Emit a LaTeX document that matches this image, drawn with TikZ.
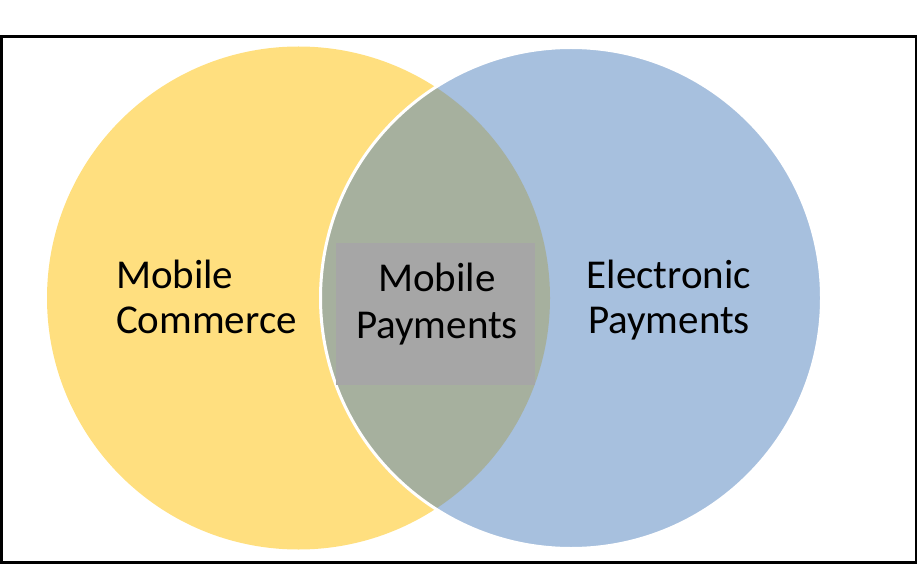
\documentclass[tikz,border=0pt]{standalone}
\usepackage{fontspec}
\setmainfont{Carlito}
\definecolor{mcyellow}{HTML}{FFC000}
\definecolor{epblue}{HTML}{4F81BD}
\definecolor{mpgray}{HTML}{A6A6A6}
\begin{document}
\begin{tikzpicture}[x=1pt,y=-1pt,
  setcircle/.style={circle,inner sep=0pt,outer sep=0pt},
  leftset/.style={setcircle,fill=mcyellow,fill opacity=0.5,minimum size=503pt},
  rightset/.style={setcircle,fill=epblue,fill opacity=0.5,draw=white,draw opacity=1,line width=3pt,minimum size=501pt},
  midbox/.style={fill=mpgray,inner sep=0pt,outer sep=0pt,minimum width=199pt,minimum height=142pt},
  label/.style={inner sep=0pt,outer sep=0pt,text=black,font=\fontsize{41}{45}\selectfont}
]
\useasboundingbox (0,0) rectangle (918,564);
\node[draw=black,line width=2.4pt,inner sep=0pt,minimum width=914.6pt,minimum height=526pt] (frame) at (458.6,299.5) {};
\node[leftset] (mc) at (298.5,298) {};
\node[rightset] (ep) at (571,298) {};
\node[midbox] (mp) at (435.5,314) {};
\node[label,align=left,anchor=base west] (mctext) at (116,333) {Mobile\\Commerce};
\node[label,align=center,anchor=base,font=\fontsize{41}{47}\selectfont] (mptext) at (437,338) {Mobile\\Payments};
\node[label,align=center,anchor=base] (eptext) at (669,333) {Electronic\\Payments};
\end{tikzpicture}
\end{document}
